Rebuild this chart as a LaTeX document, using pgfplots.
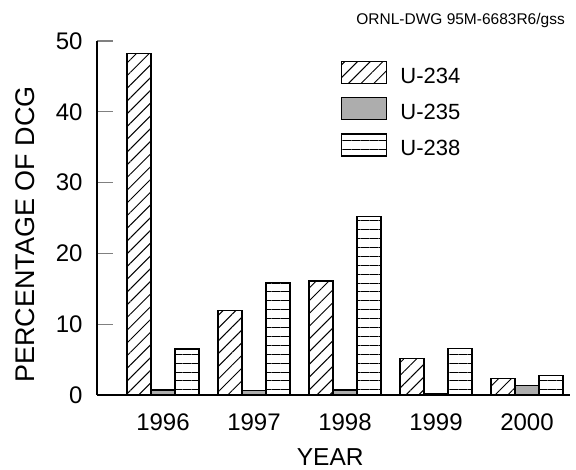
\documentclass[border=0pt]{standalone}
\usepackage{pgfplots}
\pgfplotsset{compat=1.18}
\usetikzlibrary{patterns.meta}
\usepackage{fontspec}
\setmainfont{Liberation Sans}
\pgfplotstableread{
x   u234  u235  u238
0   48.2  0.7   6.5
1   11.9  0.6   15.9
2   16.1  0.7   25.2
3   5.1   0.2   6.6
4   2.3   1.3   2.8
}\datatable
\begin{document}
\begin{tikzpicture}
\begin{axis}[
  at={(0pt,0pt)}, anchor=south west,
  scale only axis, width=473pt, height=354pt,
  xmin=-0.725, xmax=4.473, ymin=0, ymax=50,
  axis x line*=bottom, axis y line*=left,
  axis line style={-, line width=1.4pt},
  xtick={0,1,2,3,4}, xticklabels={1996,1997,1998,1999,2000},
  major x tick style={draw=none},
  ytick={0,10,20,30,40,50},
  tick align=inside, major tick length=16pt,
  major y tick style={line width=1.2pt},
  /pgf/number format/assume math mode=true,
  tick label style={font=\fontsize{24}{28}\selectfont},
  yticklabel style={xshift=-11pt},
  xticklabel style={yshift=-15pt},
  ylabel={PERCENTAGE OF DCG}, xlabel={YEAR},
  ylabel style={font=\fontsize{27}{32}\selectfont, at={(axis description cs:-0.152,0.453)}, anchor=center, rotate=0},
  xlabel style={font=\fontsize{24.5}{28}\selectfont, inner sep=0pt, at={(axis description cs:0.493,-0.176)}, anchor=center},
  bar width=0.264,
  legend style={draw=none, fill=none, inner sep=0pt, at={(axis description cs:0.5159,0.9435)}, anchor=north west,
    font=\fontsize{22}{26}\selectfont, row sep=10pt, column sep=11pt,
    nodes={inner sep=2pt, anchor=base west}},
  legend cell align=left,
  legend image code/.code={\draw[#1, line width=1.2pt] (0pt,0pt) rectangle (45pt,22pt);},
  clip=false,
]
\addplot[ybar, bar shift=-0.264, draw=black, line width=1.2pt, pattern={Lines[angle=45,distance=9pt,line width=1pt]}] table[x=x,y=u234] {\datatable};
\addplot[ybar, bar shift=0, draw=black, line width=1.2pt, fill=black!32] table[x=x,y=u235] {\datatable};
\addplot[ybar, bar shift=0.264, draw=black, line width=1.2pt, pattern={Lines[angle=0,distance=8.9pt,line width=1pt]}] table[x=x,y=u238] {\datatable};
\legend{U-234,U-235,U-238}
\end{axis}
\node[anchor=base east, font=\fontsize{15.5}{18}\selectfont, inner sep=0pt] at (468pt,370pt) {ORNL-DWG 95M-6683R6/gss};
\pgfresetboundingbox
\path[use as bounding box] (-97pt,-75pt) rectangle (479pt,395pt);
\end{tikzpicture}
\end{document}
